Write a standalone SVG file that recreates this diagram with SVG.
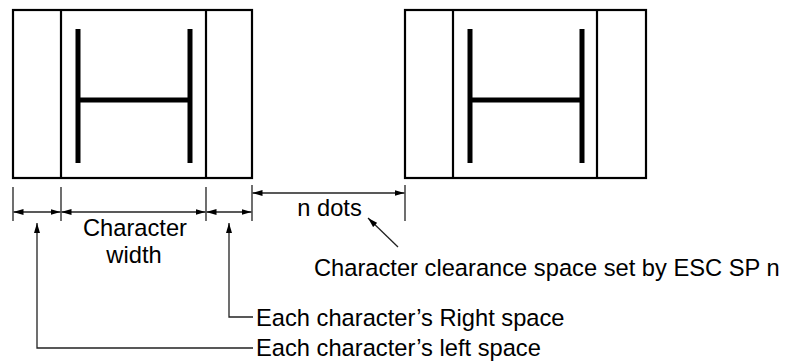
<svg xmlns="http://www.w3.org/2000/svg" width="790" height="364" viewBox="0 0 790 364">
  <style>
    .cell { fill: #fff; stroke: #000; stroke-width: 2.2; }
    .glyph { fill: none; stroke: #000; stroke-width: 5; stroke-linecap: butt; }
    .dim { fill: none; stroke: #222; stroke-width: 1.3; }
    .lbl { font-family: "Liberation Sans", Arial, Helvetica, sans-serif; font-size: 23.7px; fill: #000; }
  </style>
  <defs>
    <marker id="ah" viewBox="0 0 10 6" refX="10" refY="3" markerWidth="10" markerHeight="6" markerUnits="userSpaceOnUse" orient="auto-start-reverse">
      <path d="M0,0 L10,3 L0,6 Z" fill="#000"/>
    </marker>
  </defs>

  <!-- first character cell -->
  <g id="char1">
    <rect class="cell" x="13" y="10" width="239" height="168"/>
    <line class="cell" x1="61" y1="10" x2="61" y2="178"/>
    <line class="cell" x1="206" y1="10" x2="206" y2="178"/>
    <path class="glyph" d="M78,29 V163 M190,29 V163 M78,100 H190"/>
  </g>

  <!-- second character cell -->
  <g id="char2">
    <rect class="cell" x="405" y="10" width="241" height="168"/>
    <line class="cell" x1="453" y1="10" x2="453" y2="178"/>
    <line class="cell" x1="597" y1="10" x2="597" y2="178"/>
    <path class="glyph" d="M470,29 V163 M582,29 V163 M470,100 H582"/>
  </g>

  <!-- dimension lines and leaders -->
  <g id="connectors">
    <path class="dim" d="M13,187 V221 M61,187 V221 M206,187 V221 M252,185 V221 M405,185 V221"/>
    <line class="dim" x1="13.5" y1="212" x2="60.5" y2="212" marker-start="url(#ah)" marker-end="url(#ah)"/>
    <line class="dim" x1="61.5" y1="212" x2="205.5" y2="212" marker-start="url(#ah)" marker-end="url(#ah)"/>
    <line class="dim" x1="206.5" y1="212" x2="251.5" y2="212" marker-start="url(#ah)" marker-end="url(#ah)"/>
    <line class="dim" x1="252.5" y1="193" x2="404.5" y2="193" marker-start="url(#ah)" marker-end="url(#ah)"/>
    <line class="dim" x1="398" y1="247" x2="368" y2="218" marker-end="url(#ah)"/>
    <path class="dim" d="M253,348 H37 V223" marker-end="url(#ah)"/>
    <path class="dim" d="M253,317 H229 V223" marker-end="url(#ah)"/>
  </g>

  <!-- labels -->
  <g id="labels">
    <text class="lbl" x="135" y="236" text-anchor="middle">Character</text>
    <text class="lbl" x="134" y="263" text-anchor="middle">width</text>
    <text class="lbl" x="329.5" y="216" text-anchor="middle">n dots</text>
    <text class="lbl" x="314" y="276">Character clearance space set by ESC SP n</text>
    <text class="lbl" x="256" y="326">Each character’s Right space</text>
    <text class="lbl" x="256" y="356">Each character’s left space</text>
  </g>
</svg>
